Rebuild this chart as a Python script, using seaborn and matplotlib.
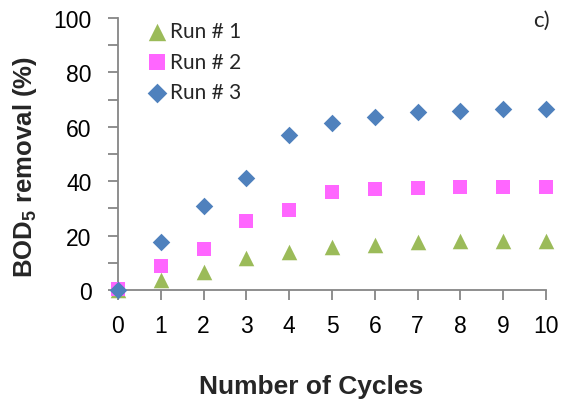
import numpy as np
import pandas as pd
import matplotlib
matplotlib.use("Agg")
import matplotlib.pyplot as plt
from matplotlib.ticker import MultipleLocator
import seaborn as sns

# BOD5 removal (%) per treatment cycle for three runs
cycles = [0, 1, 2, 3, 4, 5, 6, 7, 8, 9, 10]
run1 = [0.0, 3.8, 6.7, 11.6, 14.1, 15.7, 16.5, 17.5, 17.9, 17.9, 18.1]
run2 = [0.3, 8.8, 15.1, 25.4, 29.5, 35.9, 37.0, 37.4, 37.9, 37.7, 37.7]
run3 = [0.0, 17.5, 31.0, 41.2, 57.1, 61.4, 63.7, 65.3, 65.9, 66.5, 66.7]
series_labels = ["Run # 1", "Run # 2", "Run # 3"]
x_ticks = list(range(0, 11))
y_ticks = [0, 20, 40, 60, 80, 100]

sns.set_theme(style="white")
plt.rcParams["font.family"] = ["Liberation Sans", "DejaVu Sans"]
plt.rcParams["mathtext.fontset"] = "custom"
plt.rcParams["mathtext.rm"] = "Liberation Sans"
plt.rcParams["mathtext.bf"] = "Liberation Sans:bold"

fig = plt.figure(figsize=(5.64, 4.06), dpi=100)
ax = fig.add_axes([118 / 564, 1 - 291 / 406, 428 / 564, 272 / 406])

styles = [
    (run1, "^", "#9BBB59", 125),
    (run2, "s", "#FF66FF", 95),
    (run3, "D", "#4F81BD", 80),
]
for (vals, mk, col, size), lab in zip(styles, series_labels):
    sns.scatterplot(x=cycles, y=vals, marker=mk, color=col, s=size,
                    linewidth=0, label=lab, ax=ax, clip_on=False, zorder=3)

ax.set_xlim(0, 10)
ax.set_ylim(0, 100)
ax.set_xticks(x_ticks)
ax.set_yticks(y_ticks)
ax.yaxis.set_minor_locator(MultipleLocator(10))

grey = "#868686"
for side in ["top", "right"]:
    ax.spines[side].set_visible(False)
for side in ["left", "bottom"]:
    ax.spines[side].set_color(grey)
    ax.spines[side].set_linewidth(1.3)

ax.tick_params(axis="both", which="both", direction="out", color=grey,
               width=1.3, length=7, labelsize=16.5, labelcolor="black",
               bottom=True, left=True)
ax.tick_params(axis="y", which="major", pad=12)
ax.tick_params(axis="x", which="major", pad=10)
ax.tick_params(axis="x", which="minor", bottom=False)

ax.set_xlabel("Number of Cycles", fontsize=19, fontweight="bold")
ax.xaxis.label.set_va("center")
ax.xaxis.set_label_coords(0.451, -0.353)
ax.set_ylabel(r"BOD$_\mathbf{5}$ removal (%)", fontsize=18.5, fontweight="bold")
ax.yaxis.label.set_va("center")
ax.yaxis.set_label_coords(-0.217, 0.455)

leg = ax.legend(loc="upper left", bbox_to_anchor=(0.05, 1.018), frameon=False,
                prop={"family": "Lato", "size": 15}, handlelength=0.9,
                handletextpad=0.15, labelspacing=0.5, borderaxespad=0,
                markerscale=1.12)

fig.text(541 / 564, 1 - 21 / 406, "c)", ha="center", va="center",
         fontsize=16, family="Lato")

fig.savefig("out.png", dpi=100)
